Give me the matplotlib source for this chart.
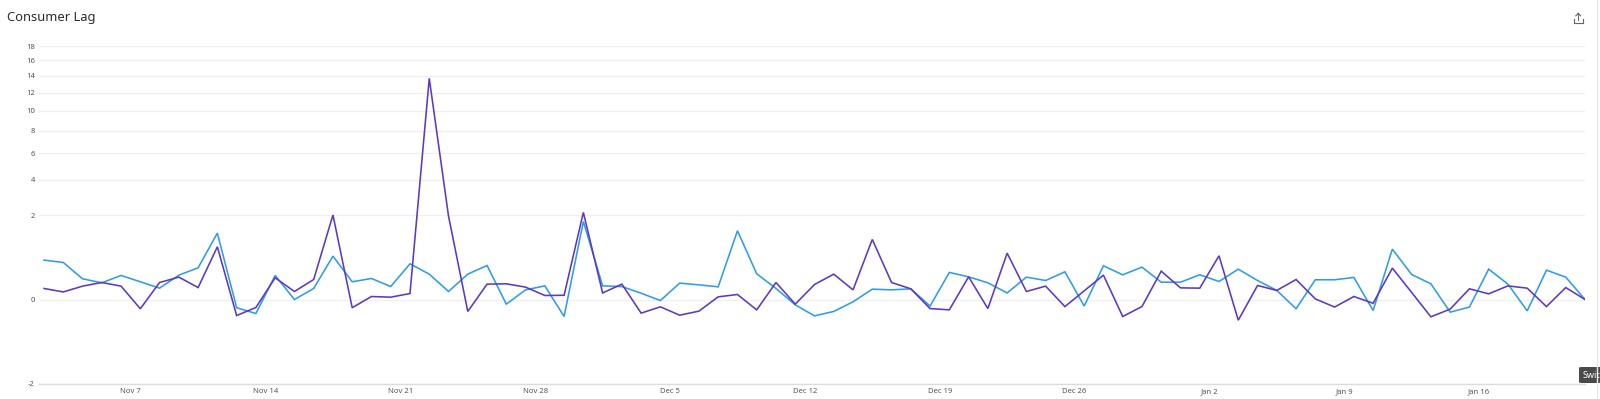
import numpy as np
import pandas as pd
import matplotlib
matplotlib.use("Agg")
import matplotlib.pyplot as plt
from matplotlib.patches import FancyBboxPatch
from matplotlib.lines import Line2D

# ---------------- data ----------------
start = "2022-11-02 12:00"
n_points = 81
series_blue = [0.434, 0.384, 0.120, 0.078, 0.162, 0.088, 0.036, 0.166, 0.281, 1.235,
               -0.019, -0.055, 0.162, 0.0, 0.034, 0.527, 0.088, 0.124, 0.047, 0.357,
               0.180, 0.018, 0.180, 0.324, -0.006, 0.026, 0.052, -0.081, 1.707, 0.052,
               0.047, 0.011, -0.0003, 0.075, 0.060, 0.045, 1.323, 0.185, 0.034, -0.008,
               -0.075, -0.040, -0.0015, 0.030, 0.026, 0.032, -0.012, 0.205, 0.144, 0.078,
               0.012, 0.140, 0.101, 0.215, -0.012, 0.318, 0.171, 0.293, 0.084, 0.084,
               0.171, 0.091, 0.258, 0.101, 0.023, -0.024, 0.109, 0.109, 0.136, -0.034,
               0.711, 0.175, 0.069, -0.045, -0.016, 0.258, 0.066, -0.036, 0.241, 0.140,
               0.0]
series_purple = [0.034, 0.016, 0.050, 0.081, 0.050, -0.024, 0.081, 0.140, 0.040, 0.778,
                 -0.072, -0.018, 0.132, 0.018, 0.112, 2.0, -0.019, 0.0025, 0.0015, 0.010,
                 13.7, 1.95, -0.040, 0.066, 0.069, 0.043, 0.0045, 0.005, 2.124, 0.012,
                 0.066, -0.052, -0.015, -0.069, -0.038, 0.002, 0.007, -0.030, 0.081, -0.006,
                 0.063, 0.180, 0.026, 1.010, 0.081, 0.032, -0.023, -0.030, 0.144, -0.023,
                 0.602, 0.018, 0.050, -0.014, 0.021, 0.166, -0.081, -0.014, 0.225, 0.038,
                 0.036, 0.535, -0.120, 0.055, 0.023, 0.112, 0.0001, -0.016, 0.0025, -0.004,
                 0.275, 0.014, -0.084, -0.026, 0.032, 0.009, 0.052, 0.036, -0.014, 0.040,
                 0.0]
xtick_dates = ["2022-11-07", "2022-11-14", "2022-11-21", "2022-11-28", "2022-12-05",
               "2022-12-12", "2022-12-19", "2022-12-26", "2023-01-02", "2023-01-09",
               "2023-01-16"]
xtick_labels = ["Nov 7", "Nov 14", "Nov 21", "Nov 28", "Dec 5", "Dec 12", "Dec 19",
                "Dec 26", "Jan 2", "Jan 9", "Jan 16"]
ytick_values = [-2, 0, 2, 4, 6, 8, 10, 12, 14, 16, 18]
title = "Consumer Lag"

# ---------------- figure ----------------
plt.rcParams['font.family'] = ['Noto Sans', 'DejaVu Sans']
W, H = 1600, 399
fig = plt.figure(figsize=(W / 100, H / 100), dpi=100)

left_px, right_px, top_px, bottom_px = 39, 1585, 46, 384
ax = fig.add_axes([left_px / W, (H - bottom_px) / H,
                   (right_px - left_px) / W, (bottom_px - top_px) / H])

def fwd(v):
    v = np.asarray(v, dtype=float)
    return np.sign(v) * np.sqrt(np.abs(v))

def inv(v):
    v = np.asarray(v, dtype=float)
    return np.sign(v) * v ** 2

ax.set_yscale('function', functions=(fwd, inv))

x = pd.date_range(start, periods=n_points, freq="D")
ax.plot(x, series_blue, color="#2f9ceb", lw=1.15, solid_joinstyle='miter', zorder=3)
ax.plot(x, series_purple, color="#5c38c6", lw=1.15, solid_joinstyle='miter', zorder=4)

ax.set_ylim(-2, 18)
day = pd.Timedelta(days=1)
ax.set_xlim(x[0] - 0.26 * day, x[-1])

ax.set_yticks(ytick_values)
ax.set_yticklabels([str(v) for v in ytick_values])
ax.set_xticks(pd.to_datetime(xtick_dates))
ax.set_xticklabels(xtick_labels)

for v in ytick_values:
    ax.axhline(v, color="#efefef", lw=0.9, zorder=1)

for s in ['top', 'right', 'left']:
    ax.spines[s].set_visible(False)
ax.spines['bottom'].set_color('#dcdcdc')
ax.spines['bottom'].set_linewidth(1.0)

ax.tick_params(axis='both', length=0, labelsize=5.5, labelcolor='#555555')
ax.tick_params(axis='y', pad=3)
ax.tick_params(axis='x', pad=3)

# title
fig.text(7 / W, 1 - 17.5 / H, title, fontsize=9.3, color='#2b2b2b', va='center', ha='left')

# export icon (top right)
def px(xp, yp):
    return xp / W, 1 - yp / H
icon_color = '#666666'
for (x0, y0, x1, y1) in [(1573.5, 19, 1573.5, 22.5), (1573.5, 22.5, 1583, 22.5),
                         (1583, 22.5, 1583, 19), (1578.2, 20, 1578.2, 13.5),
                         (1575.8, 15.8, 1578.2, 13.4), (1580.6, 15.8, 1578.2, 13.4)]:
    a, b = px(x0, y0)
    c, d = px(x1, y1)
    fig.add_artist(Line2D([a, c], [b, d], color=icon_color, lw=0.8))

# right panel edge
a, b = px(1597, 0)
c, d = px(1597, H)
fig.add_artist(Line2D([a, c], [b, d], color='#e6e6e6', lw=1.0))

# tooltip "Swit" bottom right
bx, by = px(1579, 383)
box = FancyBboxPatch((bx, by), 30 / W, 16 / H, boxstyle="round,pad=0,rounding_size=0.002",
                     transform=fig.transFigure, facecolor='#4a4a4a', edgecolor='none',
                     clip_on=False)
fig.add_artist(box)
tx, ty = px(1583, 375)
fig.text(tx, ty, "Swit", fontsize=6.5, color='white', va='center', ha='left')

fig.savefig("out.png", dpi=100, facecolor='white')
